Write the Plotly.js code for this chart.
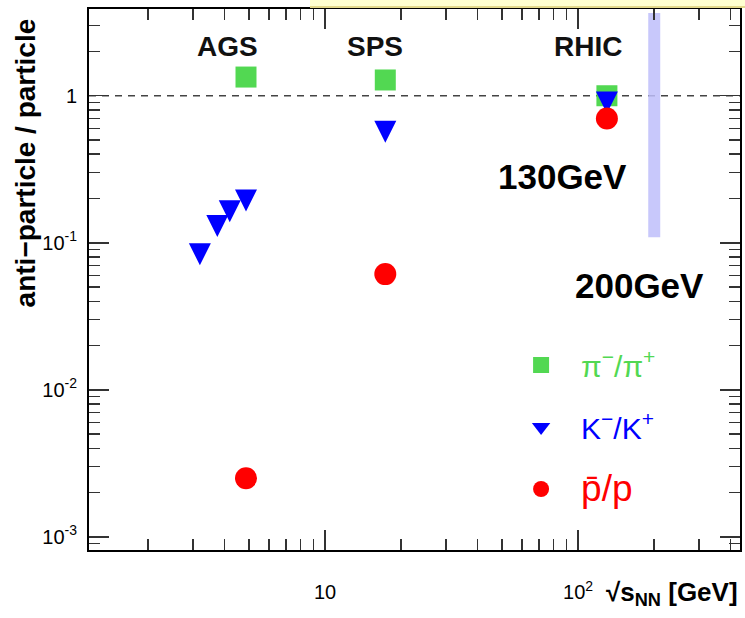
<!DOCTYPE html>
<html>
<head>
<meta charset="utf-8">
<script src="https://cdn.plot.ly/plotly-3.0.1.min.js"></script>
<style>
  html, body { margin: 0; padding: 0; background: #fff; }
  #chart { width: 745px; height: 618px; }
</style>
</head>
<body>
<div id="chart"></div>
<script>
// Antiparticle / particle ratios versus collision energy (AGS, SPS, RHIC)
const piEnergy = [4.87, 17.3, 130];
const piRatio  = [1.34, 1.28, 1.00];

const kEnergy = [3.2, 3.75, 4.2, 4.87, 17.3, 130];
const kRatio  = [0.0835, 0.130, 0.164, 0.194, 0.569, 0.90];

const pEnergy = [4.87, 17.3, 130];
const pRatio  = [0.0025, 0.0612, 0.70];

// vertical band at the 200 GeV RHIC energy
const bandEnergy = [200, 200];
const bandRatio  = [0.109, 3.65];

const unityRatio = 1;

const xTickVals = [10, 100];
const xTickText = ['10', '10<sup>2</sup>'];
const yTickVals = [0.001, 0.01, 0.1, 1];
const yTickText = ['10<sup>-3</sup>', '10<sup>-2</sup>', '10<sup>-1</sup>', '1'];

const GREEN = '#52d852';
const BLUE = '#0000ff';
const RED = '#ff0000';
const FONT = 'Liberation Sans, Arial, Helvetica, sans-serif';

// minor ticks at 2..9 of every decade
function minorTicks(decades) {
  const out = [];
  decades.forEach(d => { for (let m = 2; m <= 9; m++) out.push(m * d); });
  return out;
}

const tickStyle = {
  type: 'log',
  showgrid: false,
  zeroline: false,
  showline: true,
  linecolor: '#000',
  linewidth: 2,
  mirror: 'allticks',
  ticks: 'inside',
  ticklen: 20,
  tickwidth: 1.5,
  tickcolor: '#333',
  tickfont: { family: FONT, size: 20, color: '#000' },
  tickmode: 'array'
};

// downward triangle centred on its point: the arrow tip sits on the point,
// so it is pushed down by half its height
const kSize = 22;
const kName = '<span style="color:' + BLUE + '">K<sup>−</sup>/K<sup>+</sup></span>';

const traces = [
  {
    x: piEnergy, y: piRatio, type: 'scatter', mode: 'markers',
    name: '<span style="color:' + GREEN + '">π<sup>−</sup>/π<sup>+</sup></span>',
    legendgroup: 'pi',
    marker: { symbol: 'square', size: 21, color: GREEN }
  },
  {
    x: kEnergy, y: kRatio, type: 'scatter', mode: 'markers',
    name: kName, legendgroup: 'k', showlegend: false,
    marker: { symbol: 'arrow-down', size: kSize, color: BLUE, standoff: kSize / 2 }
  },
  {
    // legend key for the kaon series
    x: [null], y: [null], type: 'scatter', mode: 'markers',
    name: kName, legendgroup: 'k', hoverinfo: 'skip',
    marker: { symbol: 'triangle-down', size: kSize, color: BLUE }
  },
  {
    x: pEnergy, y: pRatio, type: 'scatter', mode: 'markers',
    name: '<span style="color:' + RED + ';font-size:37px">p̄/p</span>',
    legendgroup: 'p',
    marker: { symbol: 'circle', size: 22, color: RED }
  },
  {
    x: bandEnergy, y: bandRatio, type: 'scatter', mode: 'lines',
    showlegend: false, hoverinfo: 'skip',
    line: { color: 'rgba(190,190,250,0.85)', width: 12 }
  }
];

const layout = {
  width: 745,
  height: 618,
  margin: { l: 89, r: 5, t: 9, b: 68 },
  paper_bgcolor: '#fff',
  plot_bgcolor: '#fff',
  showlegend: true,
  legend: {
    x: 0.633, y: 0.39, xanchor: 'left', yanchor: 'top',
    bgcolor: 'rgba(0,0,0,0)',
    font: { family: FONT, size: 30 },
    itemwidth: 70,
    tracegroupgap: 20,
    traceorder: 'grouped'
  },
  xaxis: Object.assign({}, tickStyle, {
    range: [0.067, 2.64],
    tickvals: xTickVals,
    ticktext: xTickText,
    ticklabelstandoff: 23,
    minor: {
      tickmode: 'array',
      tickvals: minorTicks([1, 10, 100]),
      ticks: 'inside', ticklen: 11, tickwidth: 1.5, tickcolor: '#333'
    }
  }),
  yaxis: Object.assign({}, tickStyle, {
    range: [-3.09, 0.59],
    tickvals: yTickVals,
    ticktext: yTickText,
    ticklabelstandoff: 6,
    minor: {
      tickmode: 'array',
      tickvals: minorTicks([0.0001, 0.001, 0.01, 0.1, 1]),
      ticks: 'inside', ticklen: 11, tickwidth: 1.5, tickcolor: '#333'
    }
  }),
  shapes: [
    {
      type: 'line', xref: 'paper', yref: 'y',
      x0: 0, x1: 1, y0: unityRatio, y1: unityRatio,
      line: { color: '#444', width: 1.5, dash: '7px,6px' },
      layer: 'below'
    },
    {
      type: 'rect', xref: 'paper', yref: 'paper',
      x0: 0.3395, x1: 1.01, y0: 1.0025, y1: 1.02,
      fillcolor: '#ffffd0',
      line: { width: 0 }
    },
    {
      type: 'line', xref: 'paper', yref: 'paper',
      x0: 0.3395, x1: 1.01, y0: 1.0035, y1: 1.0035,
      line: { color: '#e3d98c', width: 2 }
    }
  ],
  annotations: [
    {
      text: '<b>anti−particle / particle</b>', textangle: -90,
      xref: 'paper', yref: 'paper', x: -0.098, y: 0.715,
      xanchor: 'center', yanchor: 'middle', showarrow: false,
      font: { family: FONT, size: 28, color: '#000' }
    },
    {
      text: '<b>√s<sub>NN</sub> [GeV]</b>',
      xref: 'paper', yref: 'paper', x: 1.0, y: -0.08,
      xanchor: 'right', yanchor: 'middle', showarrow: false,
      font: { family: FONT, size: 26, color: '#000' }
    },
    {
      text: '<b>AGS</b>', xref: 'paper', yref: 'paper', x: 0.2135, y: 0.931,
      showarrow: false, xanchor: 'center', yanchor: 'middle',
      font: { family: FONT, size: 28, color: '#111' }
    },
    {
      text: '<b>SPS</b>', xref: 'paper', yref: 'paper', x: 0.439, y: 0.931,
      showarrow: false, xanchor: 'center', yanchor: 'middle',
      font: { family: FONT, size: 28, color: '#111' }
    },
    {
      text: '<b>RHIC</b>', xref: 'paper', yref: 'paper', x: 0.7665, y: 0.931,
      showarrow: false, xanchor: 'center', yanchor: 'middle',
      font: { family: FONT, size: 28, color: '#111' }
    },
    {
      text: '<b>130GeV</b>', xref: 'paper', yref: 'paper', x: 0.728, y: 0.6907,
      showarrow: false, xanchor: 'center', yanchor: 'middle',
      font: { family: FONT, size: 35, color: '#000' }
    },
    {
      text: '<b>200GeV</b>', xref: 'paper', yref: 'paper', x: 0.8456, y: 0.488,
      showarrow: false, xanchor: 'center', yanchor: 'middle',
      font: { family: FONT, size: 35, color: '#000' }
    }
  ]
};

Plotly.newPlot('chart', traces, layout, { displayModeBar: false, staticPlot: true });
</script>
</body>
</html>
